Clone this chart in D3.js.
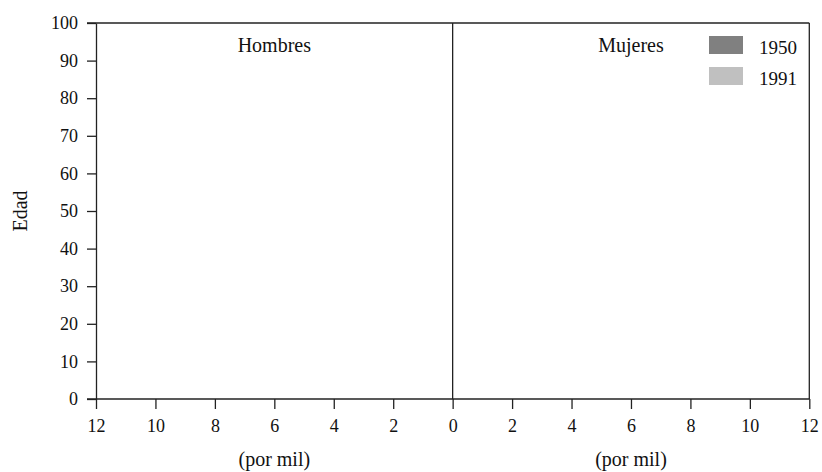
<!DOCTYPE html>
<html>
<head>
<meta charset="utf-8">
<script src="https://cdn.jsdelivr.net/npm/d3@7"></script>
<style>
  body { margin: 0; background: #fff; }
  svg text { font-family: "Liberation Serif", "DejaVu Serif", serif; fill: #111; }
</style>
</head>
<body>
<svg id="chart" width="822" height="472"></svg>
<script>
// Data (the reference shows no bars: both series are empty)
const seriesNames = ["1950", "1991"];
const seriesColors = ["#808080", "#c0c0c0"];
const ageGroups = [];
const men1950 = [];
const women1950 = [];
const men1991 = [];
const women1991 = [];
const xTicksLeft = [0, 2, 4, 6, 8, 10, 12];
const xTicksRight = [2, 4, 6, 8, 10, 12];
const yTicks = [0, 10, 20, 30, 40, 50, 60, 70, 80, 90, 100];
const panelLabels = ["Hombres", "Mujeres"];
const xTitle = "(por mil)";
const yTitle = "Edad";

(function () {
const svg = d3.select("#chart");
const pLeft = 96, pRight = 809.3, pTop = 23, pBottom = 399;
const mid = (pLeft + pRight) / 2;

const xL = d3.scaleLinear().domain([12, 0]).range([pLeft, mid]);
const xR = d3.scaleLinear().domain([0, 12]).range([mid, pRight]);
const y = d3.scaleLinear().domain([0, 100]).range([pBottom, pTop]);

// bars (empty in the reference)
const band = 5;
function drawBars(vals, scale, side, color) {
  svg.append("g").selectAll("rect").data(vals).join("rect")
    .attr("x", (d) => side === "L" ? scale(d.v) : mid)
    .attr("width", (d) => Math.abs(scale(d.v) - mid))
    .attr("y", (d) => y(d.age + band))
    .attr("height", (d) => y(d.age) - y(d.age + band))
    .attr("fill", color);
}
drawBars(men1950.map((v, i) => ({v, age: ageGroups[i]})), xL, "L", seriesColors[0]);
drawBars(women1950.map((v, i) => ({v, age: ageGroups[i]})), xR, "R", seriesColors[0]);
drawBars(men1991.map((v, i) => ({v, age: ageGroups[i]})), xL, "L", seriesColors[1]);
drawBars(women1991.map((v, i) => ({v, age: ageGroups[i]})), xR, "R", seriesColors[1]);

const lineColor = "#222";
const sw = 1.3;
const fsNum = 18;
const fsLab = 20;

// frame
svg.append("line").attr("x1", pLeft - 9).attr("x2", pRight).attr("y1", pTop).attr("y2", pTop)
  .attr("stroke", lineColor).attr("stroke-width", sw);
svg.append("line").attr("x1", pRight).attr("x2", pRight).attr("y1", pTop).attr("y2", pBottom)
  .attr("stroke", lineColor).attr("stroke-width", sw);
svg.append("line").attr("x1", mid).attr("x2", mid).attr("y1", pTop).attr("y2", pBottom)
  .attr("stroke", lineColor).attr("stroke-width", sw);

// y axis
svg.append("g").attr("transform", `translate(${pLeft},0)`)
  .call(d3.axisLeft(y).tickValues(yTicks).tickSize(9).tickPadding(9).tickSizeOuter(0));
// bottom axes
svg.append("g").attr("class", "xax").attr("transform", `translate(0,${pBottom})`)
  .call(d3.axisBottom(xL).tickValues(xTicksLeft).tickSize(10).tickPadding(10).tickSizeOuter(0));
svg.append("g").attr("class", "xax").attr("transform", `translate(0,${pBottom})`)
  .call(d3.axisBottom(xR).tickValues(xTicksRight).tickSize(10).tickPadding(10).tickSizeOuter(0));
svg.selectAll(".xax .domain").remove();
svg.append("line").attr("x1", pLeft - 9).attr("x2", pRight).attr("y1", pBottom).attr("y2", pBottom)
  .attr("stroke", lineColor).attr("stroke-width", sw);

svg.selectAll(".domain").attr("stroke", lineColor).attr("stroke-width", sw);
svg.selectAll(".tick line").attr("stroke", lineColor).attr("stroke-width", sw);
svg.selectAll(".tick text").style("font-size", fsNum + "px")
  .style("font-family", '"Liberation Serif", "DejaVu Serif", serif').attr("fill", "#111");

// panel labels
svg.append("text").attr("x", (pLeft + mid) / 2).attr("y", 52).attr("text-anchor", "middle")
  .style("font-size", fsLab + "px").text(panelLabels[0]);
svg.append("text").attr("x", (mid + pRight) / 2).attr("y", 52).attr("text-anchor", "middle")
  .style("font-size", fsLab + "px").text(panelLabels[1]);

// axis titles
svg.append("text").attr("x", (pLeft + mid) / 2).attr("y", 466).attr("text-anchor", "middle")
  .style("font-size", fsLab + "px").text(xTitle);
svg.append("text").attr("x", (mid + pRight) / 2).attr("y", 466).attr("text-anchor", "middle")
  .style("font-size", fsLab + "px").text(xTitle);
svg.append("text").attr("transform", `translate(27,${(pTop + pBottom) / 2}) rotate(-90)`)
  .attr("text-anchor", "middle").style("font-size", fsLab + "px").text(yTitle);

// legend
const lg = svg.append("g").selectAll("g").data(seriesNames).join("g")
  .attr("transform", (d, i) => `translate(709,${36 + i * 31})`);
lg.append("rect").attr("width", 34).attr("height", 18).attr("fill", (d, i) => seriesColors[i]);
lg.append("text").attr("x", 50).attr("y", 17.5).style("font-size", fsNum + 1 + "px").text((d) => d);
})();
</script>
</body>
</html>
